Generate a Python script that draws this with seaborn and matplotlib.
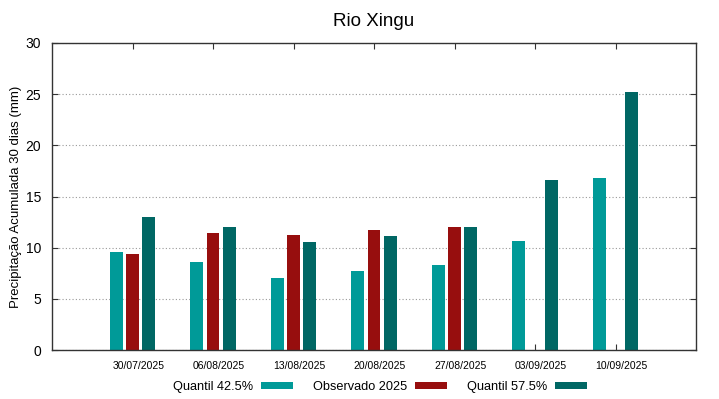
import numpy as np
import pandas as pd
import matplotlib
matplotlib.use("Agg")
import matplotlib.pyplot as plt
import matplotlib.transforms as mtransforms
from matplotlib.patches import Patch
import seaborn as sns

dates = ["30/07/2025", "06/08/2025", "13/08/2025", "20/08/2025",
         "27/08/2025", "03/09/2025", "10/09/2025"]
q425 = [9.6, 8.6, 7.0, 7.7, 8.3, 10.7, 16.8]
obs2025 = [9.35, 11.45, 11.25, 11.75, 12.0, np.nan, np.nan]
q575 = [13.0, 12.05, 10.55, 11.15, 12.0, 16.65, 25.2]
series_names = ["Quantil 42.5%", "Observado 2025", "Quantil 57.5%"]
colors = ["#009a98", "#970e0e", "#006764"]

df = pd.DataFrame({
    "data": dates * 3,
    "valor": q425 + obs2025 + q575,
    "serie": np.repeat(series_names, len(dates)),
})

sns.set_style("white")
plt.rcParams["font.family"] = ["Liberation Sans", "DejaVu Sans"]
plt.rcParams["text.color"] = "black"
plt.rcParams["axes.labelcolor"] = "black"
plt.rcParams["xtick.labelcolor"] = "black"
plt.rcParams["ytick.labelcolor"] = "black"

fig = plt.figure(figsize=(7.19, 3.99), dpi=100)
ax = fig.add_axes([52 / 719, 49 / 399, 644 / 719, 307 / 399])

sns.barplot(data=df, x="data", y="valor", hue="serie", order=dates,
            hue_order=series_names, palette=colors, width=0.6, gap=0.2,
            saturation=1, legend=False, ax=ax, edgecolor="none")

ax.set_xlim(-1, 7)
ax.set_ylim(0, 30)
ax.set_yticks([0, 5, 10, 15, 20, 25, 30])
ax.yaxis.grid(True, linestyle=(0, (1, 2)), color="#999999", linewidth=0.8)
ax.set_axisbelow(True)
ax.set_xlabel("")
ax.set_ylabel("Precipitação Acumulada 30 dias (mm)", fontsize=9.5, labelpad=2,
              color="black")
ax.set_title("Rio Xingu", fontsize=13.5, pad=12, color="black")

for s in ax.spines.values():
    s.set_color("#333333")
    s.set_linewidth(1.0)

ax.tick_params(axis="y", direction="in", length=4, labelsize=10, left=True,
               right=True, pad=8, color="#333333", labelcolor="black")
ax.tick_params(axis="x", direction="in", length=4, labelsize=7.5, bottom=True,
               top=True, pad=8, color="#333333", labelcolor="black")

offset = mtransforms.ScaledTranslation(6 / 100, 0, fig.dpi_scale_trans)
for lbl in ax.get_xticklabels():
    lbl.set_transform(lbl.get_transform() + offset)

handles = [Patch(facecolor=c, edgecolor="none") for c in colors]
leg = fig.legend(handles, series_names, loc="center",
                 bbox_to_anchor=(380 / 719, 1 - 387 / 399),
                 ncol=3, frameon=False, markerfirst=False, fontsize=9.2,
                 handlelength=2.5, handleheight=0.45, handletextpad=0.6,
                 columnspacing=1.6)
for t in leg.get_texts():
    t.set_color("black")

fig.savefig("out.png", dpi=100)
